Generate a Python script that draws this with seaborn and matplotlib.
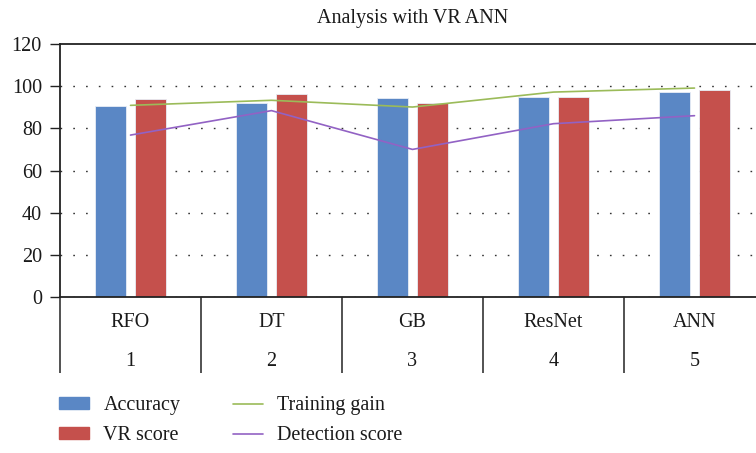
import numpy as np
import pandas as pd
import seaborn as sns
import matplotlib.pyplot as plt
from matplotlib.patches import Patch
from matplotlib.lines import Line2D
from matplotlib.transforms import blended_transform_factory

models = ["RFO", "DT", "GB", "ResNet", "ANN"]
numbers = ["1", "2", "3", "4", "5"]
accuracy = [90.7, 92.2, 94.4, 95.0, 97.2]
vr_score = [93.9, 96.1, 92.0, 94.9, 98.2]
training_gain = [90.9, 93.3, 90.1, 97.2, 99.1]
detection_score = [76.8, 88.4, 70.0, 82.2, 86.0]

blue = "#5A87C5"
red = "#C5504C"
green = "#9BBB59"
purple = "#9262C4"

sns.set_style("white")
plt.rcParams["font.family"] = ["Liberation Serif", "DejaVu Serif"]

df = pd.DataFrame({
    "model": models * 2,
    "value": accuracy + vr_score,
    "metric": ["Accuracy"] * 5 + ["VR score"] * 5,
})

fig = plt.figure(figsize=(7.56, 4.53), dpi=100)
ax = fig.add_axes([60 / 756, 1 - 297 / 453, 705 / 756, 253 / 453])

sns.barplot(data=df, x="model", y="value", hue="metric", palette=[blue, red],
            saturation=1, width=0.57, gap=0.21, edgecolor="#E8EEF6", linewidth=0.6,
            legend=False, ax=ax, zorder=2)
pos = np.arange(len(models))
sns.lineplot(x=pos, y=training_gain, color=green, lw=1.2, ax=ax, zorder=3)
sns.lineplot(x=pos, y=detection_score, color=purple, lw=1.2, ax=ax, zorder=3)

ax.set_xlim(-0.5, len(models) - 0.5)
ax.set_ylim(0, 120)
ax.set_yticks(range(0, 121, 20))
ax.yaxis.grid(True, linestyle=(0, (1.2, 8)), color="#333333", lw=1.0, zorder=0)
for t in ax.yaxis.get_gridlines()[-1:]:
    t.set_visible(False)
ax.set_axisbelow(True)
ax.tick_params(axis="y", direction="out", length=7, width=1, color="#222222",
               labelsize=14.5, pad=6, left=True, labelcolor="#1a1a1a")
ax.set_xticks(np.arange(-0.5, len(models), 1.0))
ax.set_xticklabels([])
ax.tick_params(axis="x", direction="out", length=55, width=1.3,
               color="#444444", bottom=True)
ax.set_xlabel("")
ax.set_ylabel("")
for side in ["left", "top", "bottom"]:
    ax.spines[side].set_color("#222222")
    ax.spines[side].set_linewidth(1.3)
ax.spines["right"].set_visible(False)

trans = blended_transform_factory(ax.transData, ax.transAxes)
for i, (m, n) in enumerate(zip(models, numbers)):
    ax.text(i, -0.099, m, transform=trans, ha="center", va="center", fontsize=14.5, color="#1a1a1a")
    ax.text(i, -0.253, n, transform=trans, ha="center", va="center", fontsize=14.5, color="#1a1a1a")

ax.set_title("Analysis with VR ANN", fontsize=14.5, color="#1a1a1a", pad=15)

handles = [Patch(facecolor=blue, edgecolor=blue), Patch(facecolor=red, edgecolor=red),
           Line2D([], [], color=green, lw=1.2), Line2D([], [], color=purple, lw=1.2)]
labels = ["Accuracy", "VR score", "Training gain", "Detection score"]
fig.legend(handles, labels, ncol=2, loc="upper left", bbox_to_anchor=(59 / 756, 1 - 396 / 453),
           frameon=False, fontsize=14.5, handlelength=1.5, handleheight=0.5,
           handletextpad=0.7, columnspacing=2.6, labelspacing=0.55,
           borderpad=0, borderaxespad=0, labelcolor="#1a1a1a")

fig.savefig("out.png", dpi=100)
